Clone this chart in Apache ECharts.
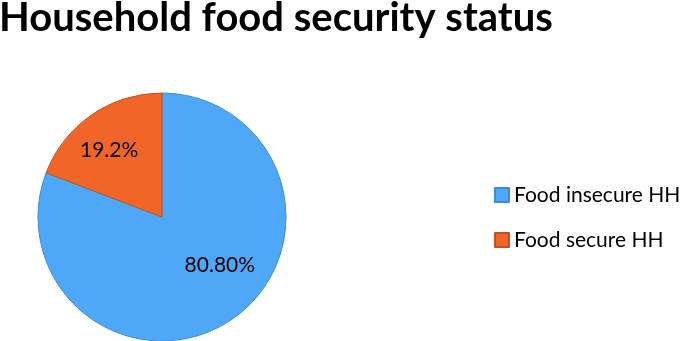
<!DOCTYPE html>
<html>
<head>
<meta charset="utf-8">
<script src="https://cdn.jsdelivr.net/npm/echarts@6/dist/echarts.min.js"></script>
<style>html,body{margin:0;padding:0;background:#fff;}#c{width:685px;height:341px;}</style>
</head>
<body>
<div id="c"></div>
<script>
const titleText = 'Household food security status';
const categories = ['Food insecure HH', 'Food secure HH'];
const values = [80.8, 19.2];
const labelTexts = ['80.80%', '19.2%'];
const colors = ['#4FA8F7', '#F26528'];
const borders = ['#3F8AD0', '#B8541F'];
const labelOffsets = [[21, -5], [-16, -13]];

const chart = echarts.init(document.getElementById('c'), null, {renderer: 'canvas'});
chart.setOption({
  animation: false,
  title: {
    text: titleText,
    left: -1, top: -2,
    padding: 0,
    textStyle: {fontFamily: 'Lato', fontWeight: 'bold', fontSize: 40, color: '#000'}
  },
  legend: {
    orient: 'vertical',
    left: 494, top: 184,
    padding: 0,
    itemWidth: 14, itemHeight: 14, itemGap: 23,
    icon: 'rect',
    data: categories,
    textStyle: {fontFamily: 'Lato', fontSize: 21, color: '#000', lineHeight: 22}
  },
  series: [{
    type: 'pie',
    center: [162, 217],
    radius: 124,
    startAngle: 90,
    clockwise: true,
    labelLine: {show: false},
    data: categories.map((n, i) => ({
      name: n,
      value: values[i],
      itemStyle: {color: colors[i], borderColor: borders[i], borderWidth: 1},
      label: {
        show: true, position: 'inside',
        formatter: labelTexts[i],
        offset: labelOffsets[i],
        fontFamily: 'Lato', fontSize: 21, color: '#000'
      }
    })),
    emphasis: {disabled: true}
  }]
});
</script>
</body>
</html>
